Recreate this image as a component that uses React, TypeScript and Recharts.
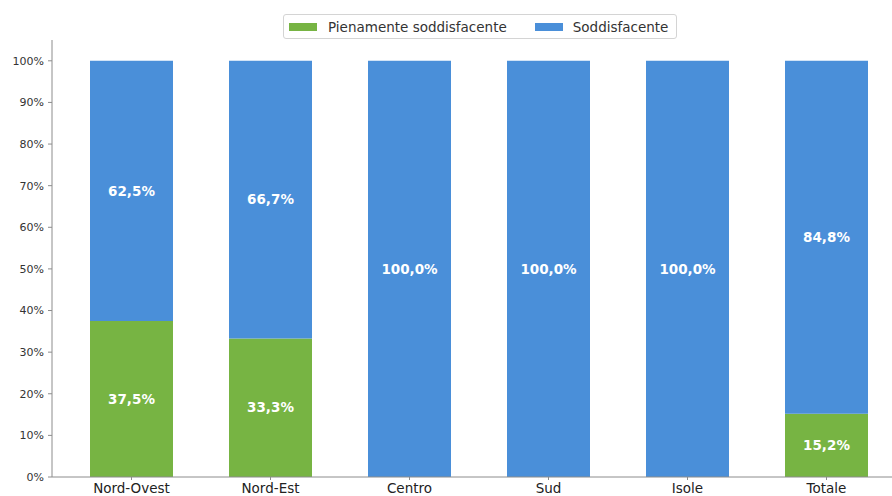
import React from "react";
import { BarChart, Bar, XAxis, YAxis, Legend, LabelList } from "recharts";

const categories = ["Nord-Ovest", "Nord-Est", "Centro", "Sud", "Isole", "Totale"];
const pienamente = [37.5, 33.3, 0, 0, 0, 15.2];
const soddisfacente = [62.5, 66.7, 100, 100, 100, 84.8];
const yTicks = [0, 10, 20, 30, 40, 50, 60, 70, 80, 90, 100];

const GREEN = "#77b443";
const BLUE = "#4a8fd9";
const FONT = "'DejaVu Sans', Verdana, sans-serif";

const data = categories.map((c, i) => ({
  name: c,
  pienamente: pienamente[i],
  soddisfacente: soddisfacente[i],
}));

const fmt = (v: any) => {
  const n = Number(v);
  if (!n) return "";
  return n.toFixed(1).replace(".", ",") + "%";
};

const LegendContent = () => (
  <div
    style={{
      boxSizing: "border-box",
      width: 394,
      height: 25,
      border: "1px solid #d4d4d4",
      borderRadius: 3,
      background: "#fff",
      display: "flex",
      alignItems: "center",
      paddingLeft: 5,
      fontFamily: FONT,
      fontSize: 13.5,
      color: "#333",
      whiteSpace: "nowrap",
    }}
  >
    <span style={{ display: "inline-block", width: 28, height: 8, background: GREEN }} />
    <span style={{ marginLeft: 11 }}>Pienamente soddisfacente</span>
    <span style={{ display: "inline-block", width: 28, height: 8, background: BLUE, marginLeft: 28 }} />
    <span style={{ marginLeft: 10 }}>Soddisfacente</span>
  </div>
);

export default function App() {
  return (
    <div style={{ position: "absolute", left: 0, top: 0, width: 892, height: 496, overflow: "hidden", background: "#fff" }}>
      <BarChart
        width={906}
        height={496}
        data={data}
        margin={{ top: 40, right: 0, left: 0, bottom: 0 }}
        barCategoryGap={0}
      >
        <XAxis
          dataKey="name"
          height={19}
          padding={{ left: 10, right: 10 }}
          axisLine={{ stroke: "#8c8c8c" }}
          tickLine={{ stroke: "#8c8c8c" }}
          tickSize={3}
          tickMargin={3}
          tick={{ fill: "#222", fontSize: 13.5, fontFamily: FONT }}
          interval={0}
        />
        <YAxis
          width={52}
          domain={[0, 105]}
          ticks={yTicks}
          allowDataOverflow
          tickFormatter={(v: number) => `${v}%`}
          axisLine={{ stroke: "#8c8c8c" }}
          tickLine={{ stroke: "#8c8c8c" }}
          tickSize={4}
          tickMargin={4}
          tick={{ fill: "#333", fontSize: 11, fontFamily: FONT }}
        />
        <Legend
          layout="horizontal"
          verticalAlign="middle"
          align="center"
          content={<LegendContent />}
          wrapperStyle={{ top: 14, left: 283, width: 394, height: 25 }}
        />
        <Bar dataKey="pienamente" stackId="a" fill={GREEN} barSize={83} isAnimationActive={false} name="Pienamente soddisfacente">
          <LabelList
            dataKey="pienamente"
            position="center"
            formatter={fmt}
            fill="#fff"
            style={{ fontSize: 13.5, fontWeight: "bold", fontFamily: FONT }}
          />
        </Bar>
        <Bar dataKey="soddisfacente" stackId="a" fill={BLUE} barSize={83} isAnimationActive={false} name="Soddisfacente">
          <LabelList
            dataKey="soddisfacente"
            position="center"
            formatter={fmt}
            fill="#fff"
            style={{ fontSize: 13.5, fontWeight: "bold", fontFamily: FONT }}
          />
        </Bar>
      </BarChart>
    </div>
  );
}
